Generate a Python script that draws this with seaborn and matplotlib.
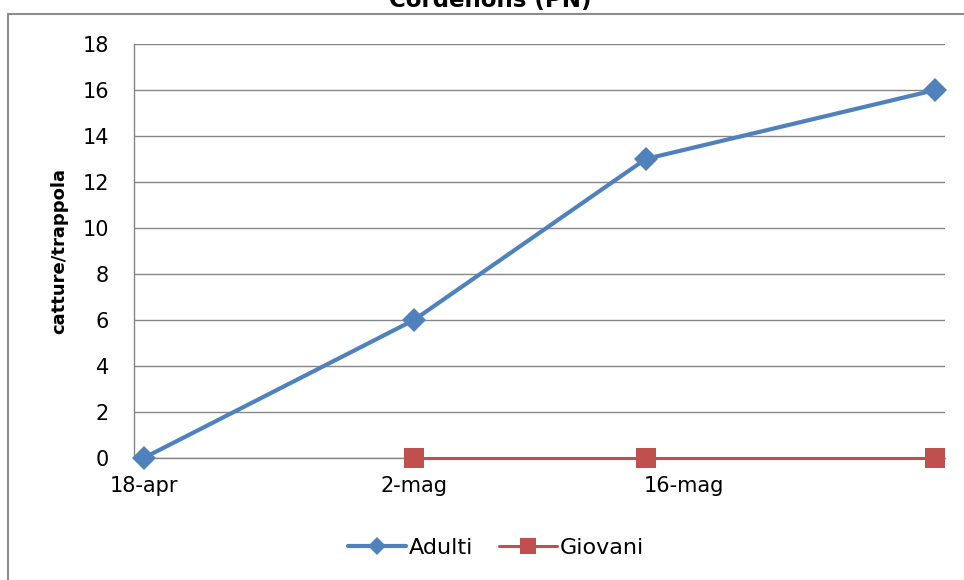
import numpy as np
import pandas as pd
import seaborn as sns
import matplotlib.pyplot as plt
import matplotlib.dates as mdates
from matplotlib.patches import Rectangle
from matplotlib.lines import Line2D

# data
dates = ["2013-04-18", "2013-05-02", "2013-05-14", "2013-05-29"]
adulti = [0, 6, 13, 16]
giovani = [np.nan, 0, 0, 0]
tick_dates = ["2013-04-18", "2013-05-02", "2013-05-16"]
tick_labels = ["18-apr", "2-mag", "16-mag"]
yticks = list(range(0, 19, 2))

sns.set_style("white")
plt.rcParams['font.family'] = ['DejaVu Sans']
plt.rcParams['text.color'] = 'black'
plt.rcParams['xtick.labelcolor'] = 'black'
plt.rcParams['ytick.labelcolor'] = 'black'
plt.rcParams['axes.labelcolor'] = 'black'

# excel puts each point in the middle of its day slot
half_day = pd.Timedelta(hours=12)
df = pd.DataFrame({
    "data": pd.to_datetime(dates) + half_day,
    "Adulti": adulti,
    "Giovani": giovani,
})

fig = plt.figure(figsize=(9.64, 5.8), dpi=100)
ax = fig.add_axes([134 / 964, 1 - 458 / 580, (945 - 134) / 964, (458 - 44) / 580])

# chart frame, cut at the right and bottom
fig.patches.append(Rectangle((8 / 964, -0.05), 1.2, 1 - 14 / 580 + 0.05,
                             transform=fig.transFigure, fill=False,
                             edgecolor="#8c8c8c", linewidth=1.5, zorder=0))

blue = "#4F81BD"
red = "#C0504D"
sns.lineplot(data=df.dropna(), x="data", y="Giovani", ax=ax, color=red, linewidth=2.2,
             marker="s", markersize=15, markeredgewidth=0, zorder=3, clip_on=False)
sns.lineplot(data=df, x="data", y="Adulti", ax=ax, color=blue, linewidth=3,
             marker="D", markersize=12, markeredgewidth=0, zorder=4, clip_on=False)

ax.set_xlim(pd.Timestamp("2013-04-18"), pd.Timestamp("2013-05-30"))
ax.set_ylim(0, 18)
ax.set_yticks(yticks)
ax.yaxis.grid(True, color="#868686", linewidth=1)
ax.set_axisbelow(True)

# tick marks at day boundaries, labels centred on the day
ax.set_xticks(mdates.date2num(pd.to_datetime(tick_dates)))
ax.set_xticklabels([])
ax.set_xticks(mdates.date2num(pd.to_datetime(tick_dates) + half_day), minor=True)
ax.set_xticklabels(tick_labels, minor=True)
ax.tick_params(axis="x", which="major", length=7, width=1, color="#868686", direction="out")
ax.tick_params(axis="x", which="minor", length=0, pad=13, labelsize=15)
ax.tick_params(axis="y", length=6, width=1, color="#868686", direction="out", pad=12, labelsize=15)

for s in ["top", "right"]:
    ax.spines[s].set_visible(False)
for s in ["left", "bottom"]:
    ax.spines[s].set_color("#868686")
    ax.spines[s].set_linewidth(1)

ax.set_xlabel("")
ax.set_ylabel("catture/trappola", fontsize=13, fontweight="bold", labelpad=10)

fig.text(490 / 964, 1 - 7 / 580, "Cordenons (PN)", ha="center", va="baseline",
         fontsize=16.5, fontweight="bold")

handles = [
    Line2D([], [], color=blue, linewidth=3, marker="D", markersize=9, markeredgewidth=0),
    Line2D([], [], color=red, linewidth=2.2, marker="s", markersize=11, markeredgewidth=0),
]
fig.legend(handles, ["Adulti", "Giovani"], loc="center", bbox_to_anchor=(496 / 964, 1 - 548 / 580),
           ncol=2, frameon=False, fontsize=16, handlelength=2.6, handletextpad=0.1, columnspacing=1.2)

fig.savefig("out.png", dpi=100)
